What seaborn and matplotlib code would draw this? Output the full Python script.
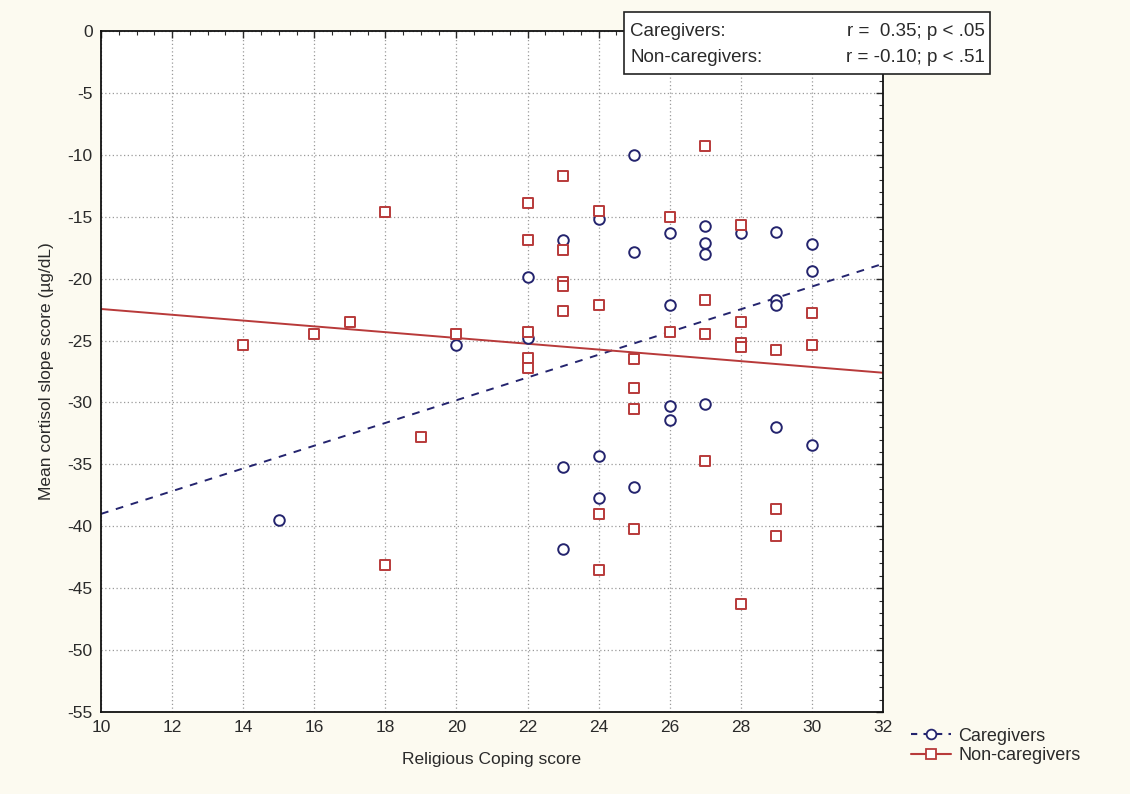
import matplotlib
matplotlib.use("Agg")
import matplotlib.pyplot as plt
from matplotlib.lines import Line2D
from matplotlib.patches import Rectangle
from matplotlib.ticker import MultipleLocator
import seaborn as sns
import pandas as pd

# ---- data ----
care_x = [15, 20, 22, 22, 23, 23, 23, 24, 24, 24, 25, 25, 25, 26, 26, 26, 26,
          27, 27, 27, 27, 28, 29, 29, 29, 29, 30, 30, 30]
care_y = [-39.5, -25.4, -19.9, -24.8, -16.9, -35.2, -41.8, -15.2, -34.3, -37.7,
          -10.0, -17.85, -36.8, -16.3, -22.1, -30.3, -31.4, -15.75, -17.1, -18.0,
          -30.1, -16.3, -16.2, -21.7, -22.1, -32.0, -17.2, -19.4, -33.4]

non_x = [14, 16, 17, 18, 18, 19, 20, 22, 22, 22, 22, 22, 23, 23, 23, 23, 23,
         24, 24, 24, 24, 25, 25, 25, 25, 26, 26, 27, 27, 27, 27, 28, 28, 28, 28,
         28, 29, 29, 29, 30, 30]
non_y = [-25.4, -24.5, -23.5, -14.6, -43.1, -32.8, -24.5, -13.9, -16.9, -24.3,
         -26.4, -27.2, -11.7, -17.7, -20.3, -20.6, -22.6, -14.5, -22.1, -39.0,
         -43.5, -26.5, -28.8, -30.5, -40.2, -15.0, -24.3, -9.3, -21.7, -24.5,
         -34.7, -15.7, -23.5, -25.2, -25.5, -46.3, -25.8, -38.6, -40.8, -22.75,
         -25.4]

# fitted regression lines (endpoints)
fit_x = [10, 32]
care_fit_y = [-39.0, -18.8]
non_fit_y = [-22.45, -27.6]

x_ticks = [10, 12, 14, 16, 18, 20, 22, 24, 26, 28, 30, 32]
y_ticks = [0, -5, -10, -15, -20, -25, -30, -35, -40, -45, -50, -55]

series_names = ["Caregivers", "Non-caregivers"]
stats_left = ["Caregivers:", "Non-caregivers:"]
stats_right = ["r =  0.35; p < .05", "r = -0.10; p < .51"]

# ---- style ----
sns.set_style("white")
plt.rcParams["font.family"] = ["Liberation Sans", "DejaVu Sans"]
plt.rcParams["axes.unicode_minus"] = False

NAVY = "#24246e"
RED = "#b83a3a"
BG = "#fcfaf0"
TXT = "#2a2a2a"

fig = plt.figure(figsize=(11.3, 7.94), dpi=100, facecolor=BG)
ax = fig.add_axes([101 / 1130, 1 - 712 / 794, (883 - 101) / 1130, (712 - 31) / 794])
ax.set_facecolor("white")

care_df = pd.DataFrame({"x": care_x, "y": care_y})
non_df = pd.DataFrame({"x": non_x, "y": non_y})

sns.lineplot(x=fit_x, y=care_fit_y, ax=ax, color=NAVY, linestyle=(0, (4, 4)),
             linewidth=1.4, zorder=2)
sns.lineplot(x=fit_x, y=non_fit_y, ax=ax, color=RED, linestyle="-",
             linewidth=1.4, zorder=2)

sns.scatterplot(data=care_df, x="x", y="y", ax=ax, marker="o", s=58,
                facecolors="white", edgecolor=NAVY, linewidth=1.4, zorder=3)
sns.scatterplot(data=non_df, x="x", y="y", ax=ax, marker="s", s=62,
                facecolors="white", edgecolor=RED, linewidth=1.4, zorder=3)

ax.set_xlim(10, 32)
ax.set_ylim(-55, 0)
ax.set_xticks(x_ticks)
ax.set_yticks(y_ticks)
ax.xaxis.set_minor_locator(MultipleLocator(0.5))
ax.yaxis.set_minor_locator(MultipleLocator(1))
ax.tick_params(axis="both", which="both", direction="in", top=True, right=True,
               labelsize=12.5, colors=TXT, pad=6)
ax.tick_params(which="major", length=5, width=1)
ax.tick_params(which="minor", length=3, width=0.8)
for sp in ax.spines.values():
    sp.set_color("#111111")
    sp.set_linewidth(1.3)
ax.grid(True, which="major", linestyle=(0, (1, 2)), color="#9a9a9a", linewidth=0.9)
ax.set_axisbelow(True)

ax.set_xlabel("Religious Coping score", fontsize=12.5, color=TXT, labelpad=12)
ax.set_ylabel("Mean cortisol slope score (µg/dL)", fontsize=12.5, color=TXT,
              labelpad=10)

# stats box (top right)
bx0, bx1 = 624 / 1130, 990 / 1130
by0, by1 = 1 - 74 / 794, 1 - 12 / 794
fig.patches.append(Rectangle((bx0, by0), bx1 - bx0, by1 - by0,
                             transform=fig.transFigure, facecolor="white",
                             edgecolor="#222222", linewidth=1.2, zorder=5))
for i, (lt, rt) in enumerate(zip(stats_left, stats_right)):
    yy = 1 - (32 + i * 26) / 794
    fig.text(630 / 1130, yy, lt, fontsize=13.5, va="center", ha="left",
             color=TXT, zorder=6)
    fig.text(985 / 1130, yy, rt, fontsize=13.5, va="center", ha="right",
             color=TXT, zorder=6)

# bottom-right legend
handles = [
    Line2D([], [], color=NAVY, linestyle=(0, (3, 3)), marker="o", markersize=7,
           markerfacecolor="white", markeredgecolor=NAVY, markeredgewidth=1.3),
    Line2D([], [], color=RED, linestyle="-", marker="s", markersize=7,
           markerfacecolor="white", markeredgecolor=RED, markeredgewidth=1.3),
]
fig.legend(handles, series_names, loc="center left",
           bbox_to_anchor=(895 / 1130, 1 - 746 / 794), frameon=False,
           fontsize=13, handlelength=2.2, handletextpad=0.4, labelspacing=0.15,
           labelcolor=TXT)

fig.savefig("out.png", dpi=100, facecolor=BG)
